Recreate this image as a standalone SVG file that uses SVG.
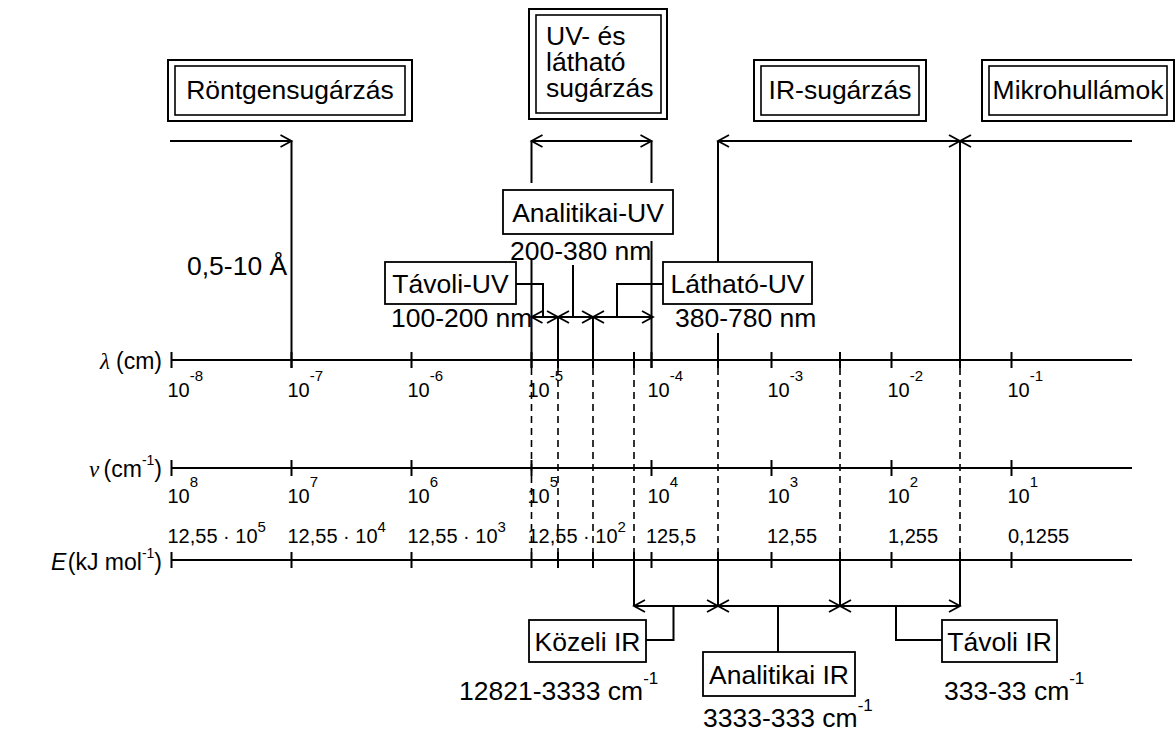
<svg xmlns="http://www.w3.org/2000/svg" width="1176" height="737" viewBox="0 0 1176 737">
<defs>
<style>
text{font-family:"Liberation Sans",Arial,sans-serif;fill:#000}
.t{font-size:26.5px}
.l{font-size:23px}
.s{font-size:20px}
.sp{font-size:15px}
.su{font-size:17px}
.sl{font-size:14px}
.m{text-anchor:middle}
.r{text-anchor:end}
.gr{font-family:"Liberation Serif","Times New Roman",serif;font-style:italic}
.ob{fill:#fff;stroke:#000;stroke-width:2}
.ib{fill:none;stroke:#000;stroke-width:1.6}
.bx{fill:#fff;stroke:#000;stroke-width:1.8}
.ln{fill:none;stroke:#000;stroke-width:2}
.ax{fill:none;stroke:#000;stroke-width:2.2}
.dl{fill:none;stroke:#000;stroke-width:1.6;stroke-dasharray:7 5}
.e{marker-end:url(#ah)}
.b{marker-start:url(#ah);marker-end:url(#ah)}
.st{marker-start:url(#ah)}
</style>
<marker id="ah" viewBox="0 0 13 14" refX="12" refY="7" markerWidth="13" markerHeight="14" markerUnits="userSpaceOnUse" orient="auto-start-reverse" overflow="visible"><path d="M1,1 L12,7 L1,13" fill="none" stroke="#000" stroke-width="1.8"/></marker>
</defs>
<rect width="1176" height="737" fill="#fff"/>

<g id="connectors">
  <line class="ln e" x1="170" y1="141" x2="291.5" y2="141"/>
  <line class="ln b" x1="531.5" y1="141" x2="651.5" y2="141"/>
  <line class="ln b" x1="718" y1="141" x2="960" y2="141"/>
  <line class="ln st" x1="960" y1="141" x2="1132" y2="141"/>
  <line class="ln" x1="291.5" y1="141" x2="291.5" y2="368"/>
  <line class="ln" x1="531.5" y1="141" x2="531.5" y2="183"/>
  <line class="ln" x1="651.5" y1="141" x2="651.5" y2="183"/>
  <line class="ln" x1="718" y1="141" x2="718" y2="262"/>
  <line class="ln" x1="960" y1="141" x2="960" y2="368"/>
  <line class="ln" x1="531.5" y1="260" x2="531.5" y2="368"/>
  <line class="ln" x1="651.5" y1="241" x2="651.5" y2="368"/>
  <line class="ln" x1="718" y1="333" x2="718" y2="368"/>
  <line class="ln b" x1="531.5" y1="317" x2="558" y2="317"/>
  <line class="ln b" x1="558" y1="317" x2="593" y2="317"/>
  <line class="ln b" x1="593" y1="317" x2="653" y2="317"/>
  <line class="ln" x1="558" y1="317" x2="558" y2="368"/>
  <line class="ln" x1="593" y1="317" x2="593" y2="368"/>
  <polyline class="ln" points="516,284 543,284 543,317"/>
  <line class="ln" x1="573" y1="265" x2="573" y2="317"/>
  <polyline class="ln" points="663,284 617,284 617,317"/>
  <line class="ln" x1="634" y1="352" x2="634" y2="368"/>
  <line class="ln" x1="840" y1="352" x2="840" y2="368"/>
  <line class="dl" x1="531.5" y1="368" x2="531.5" y2="552"/>
  <line class="dl" x1="558" y1="368" x2="558" y2="552"/>
  <line class="dl" x1="593" y1="368" x2="593" y2="552"/>
  <line class="dl" x1="634" y1="368" x2="634" y2="552"/>
  <line class="dl" x1="718" y1="368" x2="718" y2="552"/>
  <line class="dl" x1="840" y1="368" x2="840" y2="552"/>
  <line class="dl" x1="960" y1="368" x2="960" y2="552"/>
  <line class="ln" x1="558" y1="552" x2="558" y2="568"/>
  <line class="ln" x1="593" y1="552" x2="593" y2="568"/>
  <line class="ln" x1="634" y1="552" x2="634" y2="606"/>
  <line class="ln" x1="718" y1="552" x2="718" y2="606"/>
  <line class="ln" x1="840" y1="552" x2="840" y2="606"/>
  <line class="ln" x1="960" y1="552" x2="960" y2="606"/>
  <line class="ln b" x1="634" y1="606" x2="718" y2="606"/>
  <line class="ln b" x1="718" y1="606" x2="840" y2="606"/>
  <line class="ln b" x1="840" y1="606" x2="960" y2="606"/>
  <polyline class="ln" points="673.5,606 673.5,640 646,640"/>
  <line class="ln" x1="778" y1="606" x2="778" y2="652"/>
  <polyline class="ln" points="896,606 896,640 942,640"/>
</g>

<g id="axis-lambda">
  <line class="ax" x1="171.5" y1="360" x2="1132" y2="360"/>
  <path class="ln" d="M171.5,352V368M291.5,352V368M411.5,352V368M531.5,352V368M651.5,352V368M771.5,352V368M891.5,352V368M1011.5,352V368"/>
  <g class="s">
    <text x="167.5" y="397">10<tspan class="sp" dy="-16">-8</tspan></text>
    <text x="287.5" y="397">10<tspan class="sp" dy="-16">-7</tspan></text>
    <text x="407.5" y="397">10<tspan class="sp" dy="-16">-6</tspan></text>
    <text x="527.5" y="397">10<tspan class="sp" dy="-16">-5</tspan></text>
    <text x="647.5" y="397">10<tspan class="sp" dy="-16">-4</tspan></text>
    <text x="767.5" y="397">10<tspan class="sp" dy="-16">-3</tspan></text>
    <text x="887.5" y="397">10<tspan class="sp" dy="-16">-2</tspan></text>
    <text x="1007.5" y="397">10<tspan class="sp" dy="-16">-1</tspan></text>
  </g>
  <text class="l gr" x="100" y="369">λ</text>
  <text class="l r" x="162" y="369">(cm)</text>
</g>

<g id="axis-nu">
  <line class="ax" x1="171.5" y1="468" x2="1132" y2="468"/>
  <path class="ln" d="M171.5,460V476M291.5,460V476M411.5,460V476M531.5,460V476M651.5,460V476M771.5,460V476M891.5,460V476M1011.5,460V476"/>
  <g class="s">
    <text x="167.5" y="503">10<tspan class="sp" dy="-16">8</tspan></text>
    <text x="287.5" y="503">10<tspan class="sp" dy="-16">7</tspan></text>
    <text x="407.5" y="503">10<tspan class="sp" dy="-16">6</tspan></text>
    <text x="527.5" y="503">10<tspan class="sp" dy="-16">5</tspan></text>
    <text x="647.5" y="503">10<tspan class="sp" dy="-16">4</tspan></text>
    <text x="767.5" y="503">10<tspan class="sp" dy="-16">3</tspan></text>
    <text x="887.5" y="503">10<tspan class="sp" dy="-16">2</tspan></text>
    <text x="1007.5" y="503">10<tspan class="sp" dy="-16">1</tspan></text>
  </g>
  <text class="l gr" x="89" y="477">ν</text>
  <text class="l r" x="162" y="477">(cm<tspan class="sl" dy="-12">-1</tspan><tspan dy="12">)</tspan></text>
</g>

<g id="axis-E">
  <line class="ax" x1="171.5" y1="560" x2="1132" y2="560"/>
  <path class="ln" d="M171.5,552V568M291.5,552V568M411.5,552V568M531.5,552V568M651.5,552V568M771.5,552V568M891.5,552V568M1011.5,552V568"/>
  <g class="s">
    <text x="167.5" y="543">12,55 · 10<tspan class="sp" dy="-11">5</tspan></text>
    <text x="287.5" y="543">12,55 · 10<tspan class="sp" dy="-11">4</tspan></text>
    <text x="407.5" y="543">12,55 · 10<tspan class="sp" dy="-11">3</tspan></text>
    <text x="527.5" y="543">12,55 · 10<tspan class="sp" dy="-11">2</tspan></text>
    <text x="646" y="543">125,5</text>
    <text x="767" y="543">12,55</text>
    <text x="888" y="543">1,255</text>
    <text x="1008" y="543">0,1255</text>
  </g>
  <text class="l" x="51" y="570" font-style="italic">E</text>
  <text class="l r" x="162" y="570">(kJ mol<tspan class="sl" dy="-12">-1</tspan><tspan dy="12">)</tspan></text>
</g>

<g id="node-rontgen">
  <rect class="ob" x="168" y="60" width="244" height="61"/>
  <rect class="ib" x="175" y="66" width="230" height="49"/>
  <text class="t m" x="290" y="99">Röntgensugárzás</text>
</g>
<g id="node-uv-vis">
  <rect class="ob" x="529" y="9" width="138" height="110"/>
  <rect class="ib" x="536" y="15" width="125" height="98"/>
  <text class="t" x="546" y="45">UV- és<tspan x="546" dy="26">látható</tspan><tspan x="546" dy="26">sugárzás</tspan></text>
</g>
<g id="node-ir">
  <rect class="ob" x="754" y="60" width="172" height="61"/>
  <rect class="ib" x="761" y="66" width="158" height="49"/>
  <text class="t m" x="840" y="99">IR-sugárzás</text>
</g>
<g id="node-micro">
  <rect class="ob" x="982" y="60" width="192" height="61"/>
  <rect class="ib" x="989" y="66" width="178" height="49"/>
  <text class="t m" x="1078" y="99">Mikrohullámok</text>
</g>

<g id="label-xray">
  <text class="t" x="187" y="275">0,5-10 Å</text>
</g>

<g id="node-analitikai-uv">
  <rect class="bx" x="503" y="190" width="170" height="44"/>
  <text class="t m" x="588" y="222">Analitikai-UV</text>
  <text class="t" x="510" y="260">200-380 nm</text>
</g>
<g id="node-tavoli-uv">
  <rect class="bx" x="385" y="262" width="131" height="42"/>
  <text class="t m" x="450.5" y="293">Távoli-UV</text>
  <text class="t" x="391" y="327">100-200 nm</text>
</g>
<g id="node-lathato-uv">
  <rect class="bx" x="663" y="262" width="149" height="42"/>
  <text class="t m" x="737.5" y="293">Látható-UV</text>
  <text class="t" x="675" y="327">380-780 nm</text>
</g>

<g id="node-kozeli-ir">
  <rect class="bx" x="529" y="620" width="117" height="42"/>
  <text class="t m" x="587.5" y="651">Közeli IR</text>
  <text class="t" x="459" y="700">12821-3333 cm<tspan class="su" dy="-16">-1</tspan></text>
</g>
<g id="node-analitikai-ir">
  <rect class="bx" x="703" y="652" width="152" height="44"/>
  <text class="t m" x="779" y="684">Analitikai IR</text>
  <text class="t" x="703" y="727">3333-333 cm<tspan class="su" dy="-16">-1</tspan></text>
</g>
<g id="node-tavoli-ir">
  <rect class="bx" x="942" y="620" width="115" height="42"/>
  <text class="t m" x="999.5" y="651">Távoli IR</text>
  <text class="t" x="944" y="700">333-33 cm<tspan class="su" dy="-16">-1</tspan></text>
</g>
</svg>
